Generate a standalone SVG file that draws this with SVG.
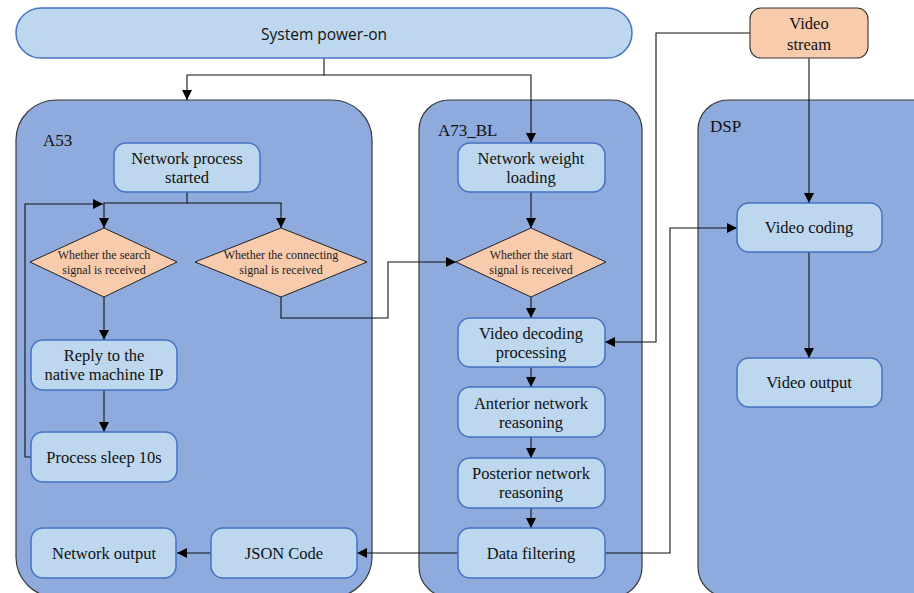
<svg xmlns="http://www.w3.org/2000/svg" width="914" height="593" viewBox="0 0 914 593">
<style>
.cont{fill:#8faadc;stroke:#3a3a3a;stroke-width:1.2}
.node{fill:#bdd7ee;stroke:#4472c4;stroke-width:1.5}
.dia{fill:#f8cbad;stroke:#222;stroke-width:1}
.t{font-family:"Liberation Serif",serif;font-size:16.5px;fill:#111;text-anchor:middle}
.ts{font-family:"Liberation Serif",serif;font-size:12px;fill:#222;text-anchor:middle}
.lab{font-family:"Liberation Serif",serif;font-size:17px;fill:#111}
.c{fill:none;stroke:#111;stroke-width:1.1}
</style>
<defs>
<marker id="a" viewBox="0 0 10 10" refX="10" refY="5" markerWidth="10" markerHeight="10" markerUnits="userSpaceOnUse" orient="auto">
<path d="M0,0 L10,5 L0,10 z" fill="#000"/>
</marker>
</defs>
<rect width="914" height="593" fill="#fff"/>
<g id="containers">
<g id="A53"><rect class="cont" x="16" y="100" width="356" height="497" rx="40"/><text class="lab" x="43" y="146">A53</text></g>
<g id="A73_BL"><rect class="cont" x="419" y="100" width="223" height="497" rx="30"/><text class="lab" x="438" y="136">A73_BL</text></g>
<g id="DSP"><rect class="cont" x="698" y="100" width="260" height="497" rx="30"/><text class="lab" x="710" y="132">DSP</text></g>
</g>
<g id="connectors">
<path class="c" d="M324,58 V75 H187 V100" marker-end="url(#a)"/>
<path class="c" d="M324,75 H531 V143" marker-end="url(#a)"/>
<path class="c" d="M187,192 V203 H104 V228" marker-end="url(#a)"/>
<path class="c" d="M187,203 H281 V228" marker-end="url(#a)"/>
<path class="c" d="M31,457 H25 V204 H103" marker-end="url(#a)"/>
<path class="c" d="M104,297 V340" marker-end="url(#a)"/>
<path class="c" d="M104,390 V432" marker-end="url(#a)"/>
<path class="c" d="M281,297 V318 H388 V262 H456" marker-end="url(#a)"/>
<path class="c" d="M531,192 V228" marker-end="url(#a)"/>
<path class="c" d="M531,297 V318" marker-end="url(#a)"/>
<path class="c" d="M531,367 V387" marker-end="url(#a)"/>
<path class="c" d="M531,437 V458" marker-end="url(#a)"/>
<path class="c" d="M531,508 V528" marker-end="url(#a)"/>
<path class="c" d="M458,553 H357" marker-end="url(#a)"/>
<path class="c" d="M211,553 H177" marker-end="url(#a)"/>
<path class="c" d="M605,553 H670 V228 H737" marker-end="url(#a)"/>
<path class="c" d="M750,33 H656 V342 H605" marker-end="url(#a)"/>
<path class="c" d="M809,58 V203" marker-end="url(#a)"/>
<path class="c" d="M809,252 V358" marker-end="url(#a)"/>
</g>
<g id="power-on"><rect class="node" x="16" y="8" width="616" height="50" rx="25"/><text x="324" y="40" text-anchor="middle" font-family="'Open Sans',sans-serif" font-size="15.5" fill="#111">System power-on</text></g>
<g id="video-stream"><rect x="750" y="8" width="118" height="50" rx="11" fill="#f8cbad" stroke="#333" stroke-width="1.1"/><text class="t" x="809" y="29" font-size="18">Video</text><text class="t" x="809" y="50" font-size="18">stream</text></g>
<g id="net-started"><rect class="node" x="114" y="143" width="146" height="49" rx="12"/><text class="t" x="187" y="164">Network process</text><text class="t" x="187" y="183">started</text></g>
<g id="search-dia"><polygon class="dia" points="30,262 104,228 177,262 104,297"/><text class="ts" x="104" y="259">Whether the search</text><text class="ts" x="104" y="274">signal is received</text></g>
<g id="connect-dia"><polygon class="dia" points="195,262 281,228 367,262 281,297"/><text class="ts" x="281" y="259">Whether the connecting</text><text class="ts" x="281" y="274">signal is received</text></g>
<g id="reply"><rect class="node" x="31" y="340" width="146" height="50" rx="12"/><text class="t" x="104" y="361">Reply to the</text><text class="t" x="104" y="380">native machine IP</text></g>
<g id="sleep"><rect class="node" x="31" y="432" width="146" height="50" rx="12"/><text class="t" x="104" y="463">Process sleep 10s</text></g>
<g id="net-output"><rect class="node" x="31" y="528" width="145" height="50" rx="12"/><text class="t" x="104" y="559">Network output</text></g>
<g id="json"><rect class="node" x="211" y="528" width="146" height="50" rx="12"/><text class="t" x="284" y="559">JSON Code</text></g>
<g id="weight"><rect class="node" x="458" y="143" width="147" height="49" rx="12"/><text class="t" x="531" y="164">Network weight</text><text class="t" x="531" y="183">loading</text></g>
<g id="start-dia"><polygon class="dia" points="456,262 531,228 606,262 531,297"/><text class="ts" x="531" y="259">Whether the start</text><text class="ts" x="531" y="274">signal is received</text></g>
<g id="decoding"><rect class="node" x="458" y="318" width="147" height="49" rx="12"/><text class="t" x="531" y="339">Video decoding</text><text class="t" x="531" y="358">processing</text></g>
<g id="anterior"><rect class="node" x="458" y="387" width="147" height="50" rx="12"/><text class="t" x="531" y="409">Anterior network</text><text class="t" x="531" y="428">reasoning</text></g>
<g id="posterior"><rect class="node" x="458" y="458" width="147" height="50" rx="12"/><text class="t" x="531" y="479">Posterior network</text><text class="t" x="531" y="498">reasoning</text></g>
<g id="filtering"><rect class="node" x="458" y="528" width="147" height="50" rx="12"/><text class="t" x="531" y="559">Data filtering</text></g>
<g id="coding"><rect class="node" x="737" y="203" width="145" height="49" rx="12"/><text class="t" x="809" y="233">Video coding</text></g>
<g id="video-output"><rect class="node" x="737" y="358" width="145" height="49" rx="12"/><text class="t" x="809" y="388">Video output</text></g>
</svg>
